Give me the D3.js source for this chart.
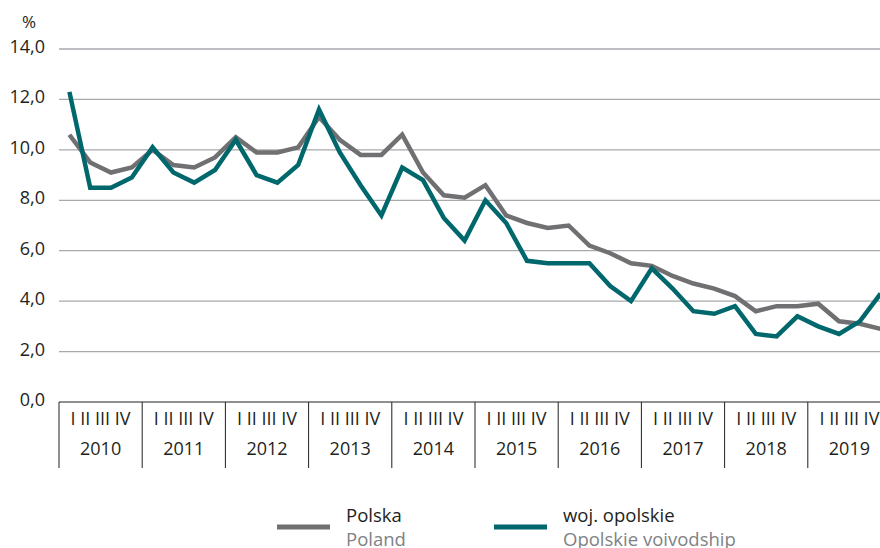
<!DOCTYPE html>
<html>
<head>
<meta charset="utf-8">
<script src="https://cdn.jsdelivr.net/npm/d3@7"></script>
<style>
  body { margin: 0; background: #fff; }
  text { font-family: "Open Sans", "Noto Sans", sans-serif; fill: #231f20; }
</style>
</head>
<body>
<div id="chart"></div>
<script>
const years = ["2010", "2011", "2012", "2013", "2014", "2015", "2016", "2017", "2018", "2019"]
const quarterLabel = "I II III IV"
const polska = [10.6, 9.5, 9.1, 9.3, 10.0, 9.4, 9.3, 9.7, 10.5, 9.9, 9.9, 10.1,
    11.3, 10.4, 9.8, 9.8, 10.6, 9.1, 8.2, 8.1, 8.6, 7.4, 7.1, 6.9,
    7.0, 6.2, 5.9, 5.5, 5.4, 5.0, 4.7, 4.5, 4.2, 3.6, 3.8, 3.8,
    3.9, 3.2, 3.1, 2.9]
const opolskie = [12.3, 8.5, 8.5, 8.9, 10.1, 9.1, 8.7, 9.2, 10.4, 9.0, 8.7, 9.4,
    11.6, 9.9, 8.6, 7.4, 9.3, 8.8, 7.3, 6.4, 8.0, 7.1, 5.6, 5.5,
    5.5, 5.5, 4.6, 4.0, 5.3, 4.5, 3.6, 3.5, 3.8, 2.7, 2.6, 3.4,
    3.0, 2.7, 3.2, 4.3]
const yTicks = [0, 2, 4, 6, 8, 10, 12, 14]

const chartWidth = 880,
    chartHeight = 548,
    plotLeft = 59,
    plotRight = 891,
    plotTop = 49,
    plotBottom = 402;

const grey = "#707073", teal = "#00686c";

const svg = d3.select("#chart")
    .append("svg")
    .attr("width", chartWidth)
    .attr("height", chartHeight)

const quarters = d3.range(years.length * 4)

const x = d3.scaleBand()
    .domain(quarters)
    .range([plotLeft, plotRight])

const xYear = d3.scaleBand()
    .domain(years)
    .range([plotLeft, plotRight])

const y = d3.scaleLinear()
    .domain([0, 14])
    .range([plotBottom, plotTop])

const fmt = d3.formatLocale({ decimal: ",", thousands: " ", grouping: [3], currency: ["", ""] }).format(".1f")

// grid lines
svg.append("g")
    .selectAll("line")
    .data(yTicks.filter(d => d > 0))
    .join("line")
    .attr("x1", plotLeft)
    .attr("x2", chartWidth)
    .attr("y1", d => y(d))
    .attr("y2", d => y(d))
    .attr("stroke", "#a7a9ac")
    .attr("stroke-width", 1.3)

// y labels
svg.append("g")
    .selectAll("text")
    .data(yTicks)
    .join("text")
    .attr("x", 45)
    .attr("y", d => y(d) + 4)
    .attr("text-anchor", "end")
    .style("font-size", "18px")
    .text(d => fmt(d))

svg.append("text")
    .attr("x", 22)
    .attr("y", 28)
    .style("font-size", "17px")
    .text("%")

// x axis box
svg.append("line")
    .attr("x1", plotLeft).attr("x2", chartWidth)
    .attr("y1", plotBottom).attr("y2", plotBottom)
    .attr("stroke", "#231f20")
    .attr("stroke-width", 1)

svg.append("g")
    .selectAll("line")
    .data(years)
    .join("line")
    .attr("x1", d => xYear(d))
    .attr("x2", d => xYear(d))
    .attr("y1", plotBottom)
    .attr("y2", 468)
    .attr("stroke", "#231f20")
    .attr("stroke-width", 1)

svg.append("g")
    .selectAll("text")
    .data(years)
    .join("text")
    .attr("x", d => xYear(d) + xYear.bandwidth() / 2)
    .attr("y", 425)
    .attr("text-anchor", "middle")
    .style("font-size", "18px")
    .text(quarterLabel)

svg.append("g")
    .selectAll("text")
    .data(years)
    .join("text")
    .attr("x", d => xYear(d) + xYear.bandwidth() / 2)
    .attr("y", 455)
    .attr("text-anchor", "middle")
    .style("font-size", "18px")
    .text(d => d)

// lines
const line = d3.line()
    .x((d, i) => x(i) + x.bandwidth() / 2)
    .y(d => y(d))

svg.append("path")
    .datum(polska)
    .attr("d", line)
    .attr("fill", "none")
    .attr("stroke", grey)
    .attr("stroke-width", 4.5)
    .attr("stroke-linejoin", "miter")

svg.append("path")
    .datum(opolskie)
    .attr("d", line)
    .attr("fill", "none")
    .attr("stroke", teal)
    .attr("stroke-width", 4.5)
    .attr("stroke-linejoin", "miter")

// legend
const legend = [
    { pl: "Polska", en: "Poland", color: grey, x: 277 },
    { pl: "woj. opolskie", en: "Opolskie voivodship", color: teal, x: 494 }
]

const lg = svg.append("g")
    .selectAll("g")
    .data(legend)
    .join("g")
    .attr("transform", d => `translate(${d.x}, 0)`)

lg.append("line")
    .attr("x1", 0).attr("x2", 53)
    .attr("y1", 527).attr("y2", 527)
    .attr("stroke", d => d.color)
    .attr("stroke-width", 5)

lg.append("text")
    .attr("x", 69)
    .attr("y", 522)
    .style("font-size", "18.5px")
    .text(d => d.pl)

lg.append("text")
    .attr("x", 69)
    .attr("y", 546)
    .style("font-size", "18.5px")
    .style("fill", "#808285")
    .text(d => d.en)
</script>
</body>
</html>
